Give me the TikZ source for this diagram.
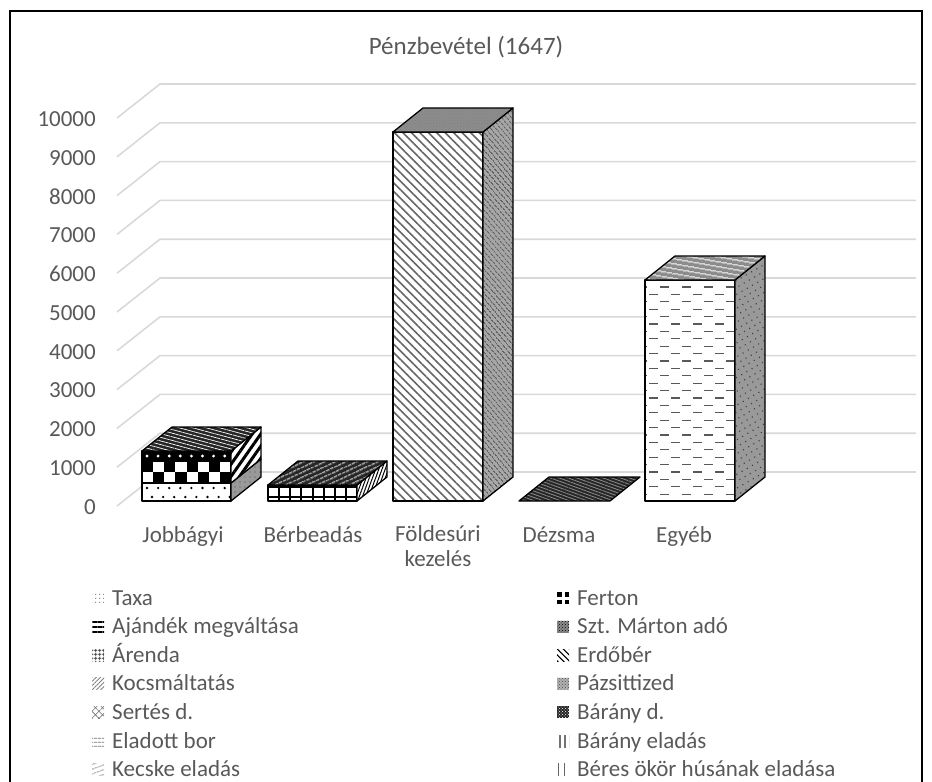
\documentclass[tikz,border=0pt]{standalone}
\usepackage{fontspec}
\setmainfont{Carlito}
\usepackage{tikz}
\usetikzlibrary{calc}
\usetikzlibrary{patterns}
\usetikzlibrary{patterns.meta}

\definecolor{gridGrey}{HTML}{D9D9D9}
\definecolor{textGrey}{HTML}{595959}

\tikzset{
	gridLine/.style={draw=gridGrey, line width=1.6pt},
	barEdge/.style={draw=black, line width=1.3pt, line join=round},
	chartText/.style={text=textGrey, font=\fontsize{23}{25}\selectfont, inner sep=0pt},
	keyTaxa/.style={preaction={fill=white}, pattern={Dots[distance=4pt, radius=.7pt]}, pattern color=black!60},
	keyGift/.style={pattern={Lines[angle=0, distance=5pt, line width=2pt]}, pattern color=black},
	keyLease/.style={pattern={Hatch[angle=0, distance=4pt, line width=.9pt]}, pattern color=black!80},
	keyTavern/.style={pattern={Lines[angle=45, distance=3pt, line width=.8pt]}, pattern color=black!50},
	keyPig/.style={pattern={Hatch[angle=45, distance=5pt, line width=.6pt]}, pattern color=black!55},
	keyWine/.style={pattern={Lines[angle=0, distance=4pt, line width=.8pt]}, pattern color=black!55},
	keyGoat/.style={pattern={Lines[angle=20, distance=4pt, line width=.8pt]}, pattern color=black!45},
	keyFerton/.style={fill=black, path picture={
		\fill [white] ([xshift=-1.5pt]path picture bounding box.north) rectangle ([xshift=1.5pt]path picture bounding box.south);
		\fill [white] ([yshift=-1.5pt]path picture bounding box.west) rectangle ([yshift=1.5pt]path picture bounding box.east);}},
	keyMarton/.style={preaction={fill=black!45}, pattern=crosshatch dots, pattern color=black},
	keyForest/.style={pattern={Lines[angle=-45, distance=4pt, line width=1.4pt]}, pattern color=black},
	keyMeadow/.style={preaction={fill=black!30}, pattern=crosshatch dots, pattern color=black!70},
	keyLamb/.style={preaction={fill=black!85}, pattern=crosshatch dots, pattern color=white},
	keyLambSale/.style={pattern={Lines[angle=90, distance=5pt, line width=1.8pt]}, pattern color=black!55},
	keyOx/.style={pattern={Lines[angle=90, distance=6pt, line width=.7pt]}, pattern color=black!60},
}

\begin{document}
\begin{tikzpicture}[x=1pt, y=-1pt]

	\useasboundingbox (0,0) rectangle (932,782);

	% frame
	\draw [line width=2.5pt] (10,782) -- (10,11) -- (922,11) -- (922,782);

	% title
	\node [chartText, font=\fontsize{25}{27}\selectfont] (title) at (466,47) {Pénzbevétel (1647)};

	% back wall, gridlines and values
	\def \gridLeft {117};
	\def \gridRight {916};
	\def \gridZero {506};
	\def \gridStep {38.8};
	\def \wallX {43};
	\def \wallY {34};
	\foreach \k in {0,...,10} {
		\pgfmathsetmacro{\gy}{\gridZero - \k*\gridStep}
		\pgfmathtruncatemacro{\val}{\k*1000}
		\draw [gridLine] (\gridLeft,\gy) -- ++(\wallX,-\wallY) -- (\gridRight,\gy-\wallY);
		\node [chartText, anchor=east] (tick\k) at (96,\gy+1) {\val};
	}

	% bar depth
	\def \barX {30};
	\def \barY {24};
	\def \barBase {501};

	% Jobbagyi: dots, checker, thin top strip
	\def \jobLeft {142};
	\def \jobRight {231};
	\fill [white] (\jobLeft,483) rectangle (\jobRight,\barBase);
	\foreach \i in {0,...,7} {
		\fill (\jobLeft+5+\i*11.1,488) circle (1.3);
		\fill (\jobLeft+10+\i*11.1,497) circle (1.3);
	}
	\fill [black] (\jobLeft,451) rectangle (\jobRight,462);
	\foreach \i in {0,...,7} {
		\fill [white] (\jobLeft+5+\i*11.1,456) circle (1.6);
		\pgfmathsetmacro{\cx}{\jobLeft+\i*11.125}
		\pgfmathtruncatemacro{\lowTone}{mod(\i,2)*100}
		\pgfmathtruncatemacro{\upTone}{100-\lowTone}
		\fill [black!\upTone] (\cx,462) rectangle ++(11.125,10);
		\fill [black!\lowTone] (\cx,472) rectangle ++(11.125,11);
	}
	\draw [barEdge] (\jobLeft,451) rectangle (\jobRight,\barBase);
	\draw [barEdge] (\jobLeft,483) -- (\jobRight,483);
	% side faces
	\draw [barEdge, preaction={fill=black!40}, pattern={Dots[distance=5pt, radius=.7pt]}, pattern color=black!70]
		(\jobRight,\barBase) -- ++(\barX,-\barY) -- ++(0,-18) -- (\jobRight,483) -- cycle;
	\draw [barEdge, preaction={fill=white}, pattern={Lines[angle=55, distance=7pt, line width=3pt]}, pattern color=black]
		(\jobRight,483) -- ++(\barX,-\barY) -- ++(0,-32) -- (\jobRight,451) -- cycle;
	% top face
	\draw [barEdge, preaction={fill=black!85}, pattern={Lines[angle=-15, distance=3.5pt, line width=.7pt]}, pattern color=white!50]
		(\jobLeft,451) -- (\jobRight,451) -- ++(\barX,-\barY) -- ($(\jobLeft,451)+(\barX,-\barY)$) -- cycle;

	% Berbeadas: grid
	\def \berLeft {268};
	\def \berRight {357};
	\fill [white] (\berLeft,485) rectangle (\berRight,\barBase);
	\foreach \i in {0,...,8}
		\draw [line width=2pt] (\berLeft+\i*11.125,485) -- (\berLeft+\i*11.125,\barBase);
	\draw [line width=2pt] (\berLeft,487) -- (\berRight,487);
	\draw [line width=1.2pt] (\berLeft,497) -- (\berRight,497);
	\draw [barEdge] (\berLeft,485) rectangle (\berRight,\barBase);
	\draw [barEdge, preaction={fill=white}, pattern={Lines[angle=70, distance=3pt, line width=1pt]}, pattern color=black]
		(\berRight,\barBase) -- ++(\barX,-\barY) -- ++(0,-16) -- (\berRight,485) -- cycle;
	\draw [barEdge, preaction={fill=black!85}, pattern={Lines[angle=25, distance=4pt, line width=1pt]}, pattern color=white!60]
		(\berLeft,485) -- (\berRight,485) -- ++(\barX,-\barY) -- ($(\berLeft,485)+(\barX,-\barY)$) -- cycle;

	% Foldesuri kezeles
	\def \folLeft {393};
	\def \folRight {483};
	\def \folTop {132};
	\draw [barEdge, preaction={fill=white}, pattern={Lines[angle=-45, distance=6pt, line width=1.6pt]}, pattern color=black!60]
		(\folLeft,\folTop) rectangle (\folRight,\barBase);
	\draw [barEdge, preaction={fill=black!35}, pattern={Lines[angle=-50, distance=4pt, line width=1.2pt]}, pattern color=black!75]
		(\folRight,\barBase) -- ++(\barX,-\barY) -- ++(0,{\folTop-\barBase}) -- (\folRight,\folTop) -- cycle;
	\draw [barEdge, preaction={fill=black!45}, pattern=crosshatch dots, pattern color=black!50]
		(\folLeft,\folTop) -- (\folRight,\folTop) -- ++(\barX,-\barY) -- ($(\folLeft,\folTop)+(\barX,-\barY)$) -- cycle;

	% Dezsma: flat
	\def \dezLeft {519};
	\def \dezRight {610};
	\draw [barEdge, preaction={fill=black!85}, pattern={Lines[angle=-20, distance=3pt, line width=.8pt]}, pattern color=black!45]
		(\dezLeft,\barBase) -- (\dezRight,\barBase) -- ++(\barX,-\barY) -- ($(\dezLeft,\barBase)+(\barX,-\barY)$) -- cycle;

	% Egyeb: dashes
	\def \egyLeft {645};
	\def \egyRight {735};
	\def \egyTop {280};
	\fill [white] (\egyLeft,\egyTop) rectangle (\egyRight,\barBase);
	\foreach \r in {0,...,28} {
		\pgfmathsetmacro{\ry}{287 + \r*7.4}
		\pgfmathsetmacro{\ph}{7 + mod(\r,2)*11}
		\draw [black!65, line width=1.3pt, dash pattern=on 9pt off 13pt, dash phase=\ph pt] (\egyLeft,\ry) -- (\egyRight,\ry);
	}
	\draw [barEdge] (\egyLeft,\egyTop) rectangle (\egyRight,\barBase);
	\draw [barEdge, preaction={fill=black!40}, pattern={Dots[distance=6pt, radius=.8pt, angle=30]}, pattern color=black!75]
		(\egyRight,\barBase) -- ++(\barX,-\barY) -- ++(0,{\egyTop-\barBase}) -- (\egyRight,\egyTop) -- cycle;
	\draw [barEdge, preaction={fill=black!45}, pattern={Lines[angle=-10, distance=4pt, line width=1pt]}, pattern color=white!70]
		(\egyLeft,\egyTop) -- (\egyRight,\egyTop) -- ++(\barX,-\barY) -- ($(\egyLeft,\egyTop)+(\barX,-\barY)$) -- cycle;

	% categories
	\node [chartText, anchor=base] (catJob) at (183,542) {Jobbágyi};
	\node [chartText, anchor=base] (catBer) at (313,542) {Bérbeadás};
	\node [chartText, anchor=north, align=center] (catFol) at (438,525) {Földesúri\\kezelés};
	\node [chartText, anchor=base] (catDez) at (559,542) {Dézsma};
	\node [chartText, anchor=base] (catEgy) at (684,542) {Egyéb};

	% legend, left column
	\foreach \lab/\sty [count=\i from 0] in {Taxa/keyTaxa, Ajándék megváltása/keyGift, Árenda/keyLease,
			Kocsmáltatás/keyTavern, Sertés d./keyPig, Eladott bor/keyWine, Kecske eladás/keyGoat} {
		\pgfmathsetmacro{\ly}{598 + \i*28.6}
		\path [\sty] (92,\ly-6) rectangle (104,\ly+6);
		\node [chartText, anchor=base west] (legL\i) at (112,\ly+7) {\lab};
	}

	% legend, right column
	\foreach \lab/\sty [count=\i from 0] in {Ferton/keyFerton, Szt. Márton adó/keyMarton, Erdőbér/keyForest,
			Pázsittized/keyMeadow, Bárány d./keyLamb, Bárány eladás/keyLambSale, Béres ökör húsának eladása/keyOx} {
		\pgfmathsetmacro{\ly}{598 + \i*28.6}
		\path [\sty] (557,\ly-6) rectangle (569,\ly+6);
		\node [chartText, anchor=base west] (legR\i) at (577,\ly+7) {\lab};
	}

\end{tikzpicture}
\end{document}
